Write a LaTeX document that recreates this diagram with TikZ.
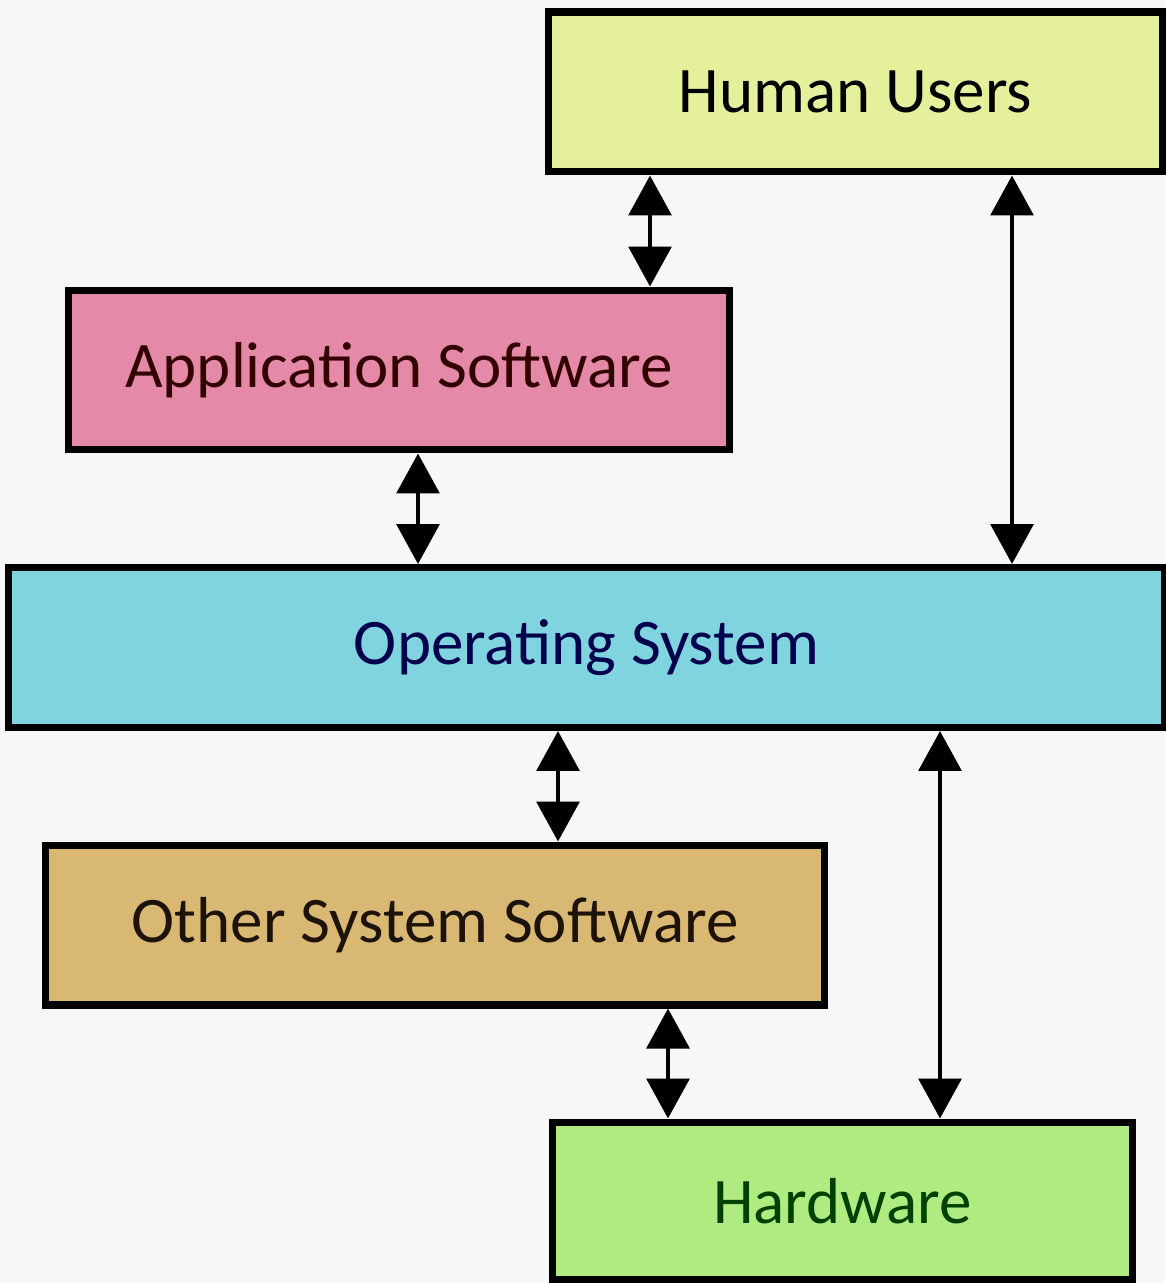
\documentclass[tikz,border=0pt]{standalone}
\usepackage{xcolor}
\usepackage{fontspec}
\setmainfont{Carlito}
\usepackage{tikz}
\usetikzlibrary{arrows.meta}

\definecolor{usercol}{HTML}{E6F09C}
\definecolor{appcol}{HTML}{E48AA8}
\definecolor{oscol}{HTML}{80D4E0}
\definecolor{othercol}{HTML}{D8B872}
\definecolor{hwcol}{HTML}{B0EB82}
\definecolor{paper}{HTML}{F7F7F7}

\begin{document}
\begin{tikzpicture}[
    x=0.02cm, y=-0.02cm,
    layer/.style={
      draw=black,
      line width=4pt,
      rectangle,
      inner sep=0pt,
      minimum height=3.2cm,
      font=\fontsize{37}{40}\selectfont,
    },
    biarrow/.style={
      line width=2.8pt,
      {Triangle[length=0.8cm, width=0.85cm]}-{Triangle[length=0.8cm, width=0.85cm]},
    },
  ]
  \fill[paper] (0, 0) rectangle (1165, 1283);
  \useasboundingbox (0, 0) rectangle (1165, 1283);

  \node[layer, fill=usercol, minimum width=12.3cm, text=black]
    (users) at (855.5, 92) {Human Users};
  \node[layer, fill=appcol, minimum width=13.24cm, text=black!80!red]
    (app) at (399, 370) {Application Software};
  \node[layer, fill=oscol, minimum width=23.14cm, text=blue!30!black]
    (os) at (586.5, 647.5) {Operating System};
  \node[layer, fill=othercol, minimum width=15.6cm, text=black!85!brown]
    (other) at (435, 925) {Other System Software};
  \node[layer, fill=hwcol, minimum width=11.62cm, minimum height=3.16cm, text=green!25!black]
    (hw) at (842.5, 1201) {Hardware};

  \draw[biarrow] (users.south -| 650, 0) -- (app.north -| 650, 0);
  \draw[biarrow] (users.south -| 1012, 0) -- (os.north -| 1012, 0);
  \draw[biarrow] (app.south -| 418, 0) -- (os.north -| 418, 0);
  \draw[biarrow] (os.south -| 558, 0) -- (other.north -| 558, 0);
  \draw[biarrow] (os.south -| 940, 0) -- (hw.north -| 940, 0);
  \draw[biarrow] (other.south -| 668, 0) -- (hw.north -| 668, 0);
\end{tikzpicture}
\end{document}
